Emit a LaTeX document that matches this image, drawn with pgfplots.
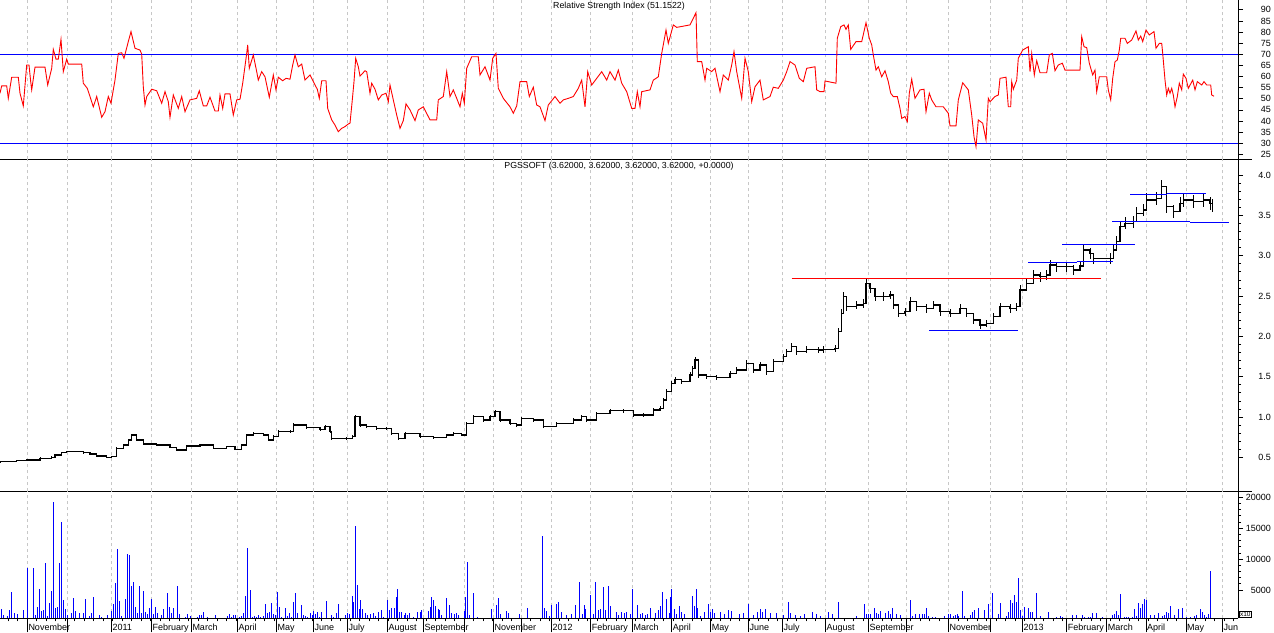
\documentclass[border=0pt]{standalone}
\usepackage{fontspec}
\setmainfont{Liberation Sans}
\usepackage{pgfplots}
\pgfplotsset{compat=1.18}

% one unit = one pixel of the reference screen shot
\pgfplotsset{
  panel/.style={
    scale only axis, width=1238pt, xmin=0, xmax=1238,
    axis x line*=bottom, axis y line*=right,
    axis line style={black, line width=0.9pt, -},
    tick align=outside,
    major tick length=5pt, minor tick length=3pt,
    every tick/.style={black, line width=0.7pt},
    xtick={27.3,67.3,111.3,151.3,191.3,237.3,276.3,313.3,347.3,387.3,423.3,464.3,493.3,521.7,551.3,590.7,632.3,671.7,710.7,748.5,782.3,825.3,868.3,906.7,948.3,990.7,1022.3,1066.7,1106.7,1146,1186,1222.3},
    xmajorgrids,
    grid style={black!22, line width=0.8pt, dash pattern=on 3pt off 3pt},
    yticklabel style={font=\fontsize{9}{10}\selectfont, anchor=east, xshift=28pt, inner sep=0pt},
    /pgf/number format/assume math mode=true,
  },
  upper/.style={xticklabels={}, xtick style={draw=none}},
}

\begin{document}
\begin{tikzpicture}
\useasboundingbox (0,0) rectangle (1274pt,-632pt);

% ---- RSI
\begin{axis}[panel, upper, at={(0pt,0pt)}, anchor=north west,
    height=159.3pt, ymin=22.8, ymax=94.4,
    ytick={25,30,...,90}]
\addplot[blue, line width=1pt] coordinates {(0,70)(1238,70)};
\addplot[blue, line width=1pt] coordinates {(0,30)(1238,30)};
\addplot[red, line width=0.9pt] coordinates {
(0,52.5)(1.7,55.8)(6.7,55.8)(8.3,50.2)(11.7,59.7)(18.3,59.7)(20,52.5)(23.3,46.8)(26.7,65.2)(29,65.2)(30.7,57.7)(31.7,54)(35,64.2)(45,64.2)(47.7,56.2)(51.7,63.7)(53.3,72.2)(56,67.8)(58.3,67.8)(61,76.7)(63.3,62.2)(66.7,67.8)(68.3,65.6)(81.7,65.6)(83.3,57)(87.3,54.7)(90,51)(93.3,46.4)(96.7,51)(101.7,41.7)(105,44.2)(108.3,51)(111,48)(113.3,54)(115,58.4)(118.3,70.4)(121.7,70.7)(124,68.2)(128.3,75.7)(131,80.2)(135,72.7)(140,71.9)(141.7,70.1)(143.3,55.4)(145,47.2)(146.7,51)(151.7,54.3)(156.7,53.6)(161.7,48)(165,53.2)(168.3,48.7)(170,41.7)(173.3,51.7)(178.3,45.7)(181.7,51)(185,44.2)(190,49.5)(196.7,50.2)(199.3,53.6)(203.3,46.8)(206.7,46.8)(210,50.7)(215,44.5)(218.3,44.5)(220,51.7)(222.7,45.7)(225,52.2)(230,52.2)(233.3,42.7)(236.7,49.5)(240,49.8)(242.7,57)(246.7,70.4)(247.7,74.2)(249.3,63.7)(253.3,69.7)(256.7,62.2)(258.3,58.4)(261.7,62.2)(265,59.9)(269.3,50.7)(273.3,60.7)(276,54)(278.3,59.7)(282.7,58.1)(286,59.2)(290,58.8)(292.7,65.2)(295,69.7)(298.3,64.4)(301.7,65.6)(305,58.4)(310,60.7)(315,56.2)(317.3,54.3)(319.3,50.2)(321.7,58.1)(326,58.1)(327.7,45.7)(331.7,40.5)(335,38.2)(338.3,35.2)(341.7,36.7)(345,37.5)(348.3,38.7)(350,39)(352.3,49.5)(354,57.7)(355.7,68.2)(358.3,64.4)(360,60.2)(365,62.6)(366.7,62.2)(370,52.5)(371.7,57)(375,54.3)(378.3,49.5)(381.7,51.7)(386,52.5)(388.3,48.7)(390,56.2)(393.3,49.5)(396.7,42.7)(400,36.7)(403.3,40.2)(406,47.7)(410,45)(415,40.2)(418.3,45)
(423.3,46.4)(430,40.5)(436.7,40.5)(438.3,49.5)(443.3,51)(446.7,62.2)(450,51)(453.3,54)(456.7,50.2)(460,46.4)(462.3,52.5)(464.3,48)(466.7,63.7)(471.7,68.9)(478.3,68.9)(480,60.7)(485,64.4)(490,58.4)(492.7,68.2)(496,70.4)(498.3,54.7)(503.3,50.2)(510,46.4)(513.3,43.5)(516.7,46.8)(520,57.7)(526.7,57.7)(529.3,51)(533.3,55.2)(536.7,47.2)(540,46.4)(545,40.2)(548.3,47.2)(555,51)(560,48)(563.3,49.5)(568.3,50.2)(573.3,51)(578.3,54.7)(581.7,58.4)(585,46.4)(587.7,62.2)(591.7,56.2)(596.7,59.2)(601.7,62.2)(606.7,58.4)(610,62.2)(615,58.4)(618.3,62.9)(621.7,57)(626.7,53.2)(631.7,45.7)(635,45.7)(637.3,53.2)(640,46.4)(641.7,53.2)(650,54)(653.3,58.4)(658.3,59.9)(661.7,70.4)(666,80.9)(668.3,74.9)(673.3,83.2)(676.7,82.1)(690,83.2)(696,88.7)(697.3,66.7)(701.7,66.7)(705,58.4)(706.7,63.7)(711.7,62.2)(715,63.7)(720,53.2)(723.3,60.7)(728.3,58.4)(731.7,65.2)(734,71.2)(736.7,62.2)(741.7,50.2)(745,68.2)(748.3,62.2)(751.7,48.7)(755,55.4)(760,58.4)(763.3,49.5)(770,51)(773.3,55.2)(778.3,54.7)(783.3,58.4)(786.7,62.2)(790,66.7)(795,65.2)(799.3,59.2)(803.3,57.7)(806.7,63.7)(815,64.4)(816.7,54)(820,53.2)(824,53.2)(825,58)(836,57)(837.3,77.2)(840.7,82.4)(844,83.2)(846,81.2)(848.3,83.2)(850.7,72.2)(856,75.7)(861.7,75.7)(866,84.2)(869.3,77.2)(871.7,74.2)(873.3,69.7)(876,62.9)(878.3,64.4)(881.7,59.9)(885,62.6)(888.3,57.7)(890.7,52.5)(893.3,51)(897.3,51)(900,45.7)(901.7,41.2)(905,42)(907.3,39.7)(909.3,52.5)(911.7,58.8)(915,50.2)(920,54)(924,54.3)(926,44.2)(929.3,52.5)(931.7,49.5)(936,46.4)(943.3,46.4)(948.3,43.5)(950,37.8)(956,37.8)(958.3,49.5)(962.7,57.2)(968.3,54)(971.7,42.7)(974,33)(976,28.5)(978.3,40.5)(982.7,39)(986,31.5)(988.3,50.2)(990,48.7)(995,51)(998.3,51.7)(1000,59.2)(1006,59.7)(1008.3,46.4)(1010.7,46.4)(1011.7,57.7)(1013.3,54.3)(1016.7,58.4)(1018.3,68.2)(1022.7,71.9)(1028.3,73.4)(1030,62.2)(1031.7,70.4)(1034.3,60.7)(1036.7,67.1)(1040,61.7)(1046.7,61.7)(1049.3,69.7)(1052.3,70.4)(1055,62.6)(1058.3,65.2)(1062.3,66)(1065,62.9)(1080,62.9)(1081.7,77.9)(1084,73.4)(1086.7,73)(1089.3,66)(1092.7,60.7)(1095,62.9)(1096.7,53.2)(1099.3,59.9)(1106.7,59.9)(1108.3,54)(1110.7,49.5)(1112.7,59.2)(1115,66.7)(1117.3,67.4)(1119.3,71.9)(1120.7,77.2)(1125,77.2)(1127.3,74.9)(1131.7,76.4)(1136,80.5)(1138.3,76.4)(1140.7,78.2)(1142.7,75.7)(1146,80.9)(1149.3,78.7)(1154,80.2)(1156,72.7)(1159.3,74.9)(1161.7,74.9)(1162.7,70.4)(1165,58.4)(1166.7,51.7)(1168.3,54.7)(1170,52.5)(1171.7,54.7)(1173.3,51.7)(1175,46.4)(1177.3,51)(1179.3,57)(1181.7,54)(1183.3,61.1)(1186,59.2)(1188.3,54.7)(1192.7,58.4)(1195,54)(1197.3,57.7)(1201.7,56.2)(1204,57.7)(1206.7,56.2)(1210.7,56.2)(1211.7,51.7)(1214,51.15)
};
\end{axis}

% ---- price
\begin{axis}[panel, upper, at={(0pt,-159.3pt)}, anchor=north west,
    height=332pt, ymin=0.0785, ymax=4.195,
    ytick={0.5,1,...,4}, minor y tick num=4,
    yticklabel style={/pgf/number format/.cd, fixed, fixed zerofill, precision=1}]
\addplot[black, const plot, line width=1.1pt,
    error bars/.cd, y dir=both, y fixed relative=0.022,
    error mark=none, error bar style={line width=1pt}] coordinates {
(0,0.446)(16.7,0.458)(26.7,0.467)(40,0.488)(51.7,0.500)(55,0.529)(61.7,0.557)(66.7,0.569)(83.3,0.557)(90,0.541)(96.7,0.516)(106.7,0.500)(111.7,0.508)(116.7,0.612)(123.3,0.653)(128.3,0.715)(131.7,0.777)(136.7,0.715)(143.3,0.665)(156.7,0.653)(170,0.624)(176.7,0.591)(186.7,0.640)(200,0.653)(213.3,0.612)(226.7,0.632)(235,0.600)(241.7,0.653)(246.7,0.777)(253.3,0.798)(263.3,0.777)(268.3,0.715)(273.3,0.756)(278.3,0.818)(290,0.818)(293.3,0.901)(306.7,0.872)(320,0.847)(325,0.880)(330,0.818)(331.7,0.736)(346.7,0.736)(352.7,0.756)(355,1.004)(360,0.901)(366.7,0.880)(376.7,0.860)(386.7,0.860)(391.7,0.798)(398.3,0.736)(405,0.798)(420,0.756)(433.3,0.748)(446.7,0.777)(453.3,0.798)(461.7,0.777)(466.7,0.922)(473.3,1.004)(483.3,0.963)(490,1.004)(495,1.066)(500,0.963)(510,0.922)(516.7,0.901)(521.7,0.984)(533.3,0.963)(543.3,0.880)(556.7,0.922)(573.3,0.963)(581.7,1.004)(586.7,0.963)(596.7,1.045)(610,1.078)(623.3,1.078)(633.3,1.025)(643.3,1.025)(653.3,1.087)(660,1.107)(663.3,1.211)(666.7,1.313)(671.7,1.416)(675,1.467)(681.7,1.437)(690,1.520)(692.7,1.603)(695,1.706)(698.3,1.520)(706.7,1.499)(716.7,1.492)(730,1.541)(736.7,1.582)(746.7,1.665)(753.3,1.582)(760,1.644)(766.7,1.561)(773.3,1.685)(783.3,1.747)(786.7,1.809)(791.7,1.871)(796.7,1.809)(806.7,1.839)(818.3,1.830)(823.3,1.839)(835,1.851)(838.3,2.057)(841.7,2.285)(843.3,2.491)(846.7,2.367)(856.7,2.388)(863.3,2.409)(866,2.657)(870,2.595)(875,2.491)(883.3,2.491)(890,2.512)(893.3,2.388)(898.3,2.285)(905,2.306)(910,2.429)(916.7,2.367)(926.7,2.347)(933.3,2.388)(940,2.306)(950,2.285)(960,2.347)(966.7,2.285)(973.3,2.202)(980,2.140)(986.7,2.161)(993.3,2.243)(1000,2.367)(1010,2.347)(1016.7,2.367)(1020,2.574)(1026.7,2.657)(1033.3,2.760)(1040,2.739)(1046.7,2.760)(1050,2.884)(1056.7,2.863)(1066.7,2.863)(1073.3,2.822)(1080,2.872)(1083.3,3.070)(1090,3.029)(1093.3,2.967)(1110,2.967)(1113.3,3.070)(1116.7,3.173)(1120,3.359)(1125,3.401)(1133.3,3.421)(1136.7,3.525)(1143.3,3.566)(1146.7,3.690)(1156.7,3.711)(1161.7,3.855)(1166.7,3.607)(1173.3,3.545)(1180,3.649)(1183.3,3.690)(1193.3,3.669)(1203.3,3.690)(1210,3.649)(1212.3,3.620)
};
% support and resistance lines
\addplot[red, line width=1pt] coordinates {(791.7,2.719)(1100.7,2.719)};
\addplot[blue, line width=1pt] coordinates {(929.3,2.075)(1017.7,2.075)};
\addplot[blue, line width=1pt] coordinates {(1028.3,2.918)(1076.7,2.918)};
\addplot[blue, line width=1pt] coordinates {(1076.7,2.934)(1113.3,2.934)};
\addplot[blue, line width=1pt] coordinates {(1062.3,3.141)(1135,3.141)};
\addplot[blue, line width=1pt] coordinates {(1112.3,3.426)(1190,3.426)};
\addplot[blue, line width=1pt] coordinates {(1190,3.414)(1229,3.414)};
\addplot[blue, line width=1pt] coordinates {(1130,3.761)(1166.7,3.761)};
\addplot[blue, line width=1pt] coordinates {(1166.7,3.773)(1206,3.773)};
\end{axis}

% ---- volume
\begin{axis}[panel, at={(0pt,-491.3pt)}, anchor=north west,
    height=127pt, ymin=420, ymax=20970,
    ytick={5000,10000,15000,20000}, minor y tick num=4,
    scaled y ticks=false,
    yticklabel style={/pgf/number format/1000 sep={}},
    xtick style={/pgfplots/major tick length=14pt},
    minor xtick={8,17.5,...,1236},
    xticklabels={November,{},2011,February,March,April,May,June,July,August,September,{},November,{},2012,February,March,April,May,June,July,August,September,{},November,{},2013,February,March,April,May,Jun},
    xticklabel style={font=\fontsize{9}{10}\selectfont, anchor=base west, inner sep=0pt, xshift=1pt, yshift=-7.5pt}]
\addplot[blue, ycomb, line width=1pt] coordinates {
(1.7,1877)(3.3,955)(7.3,793)(9.3,1764)(11.7,4725)(14,1230)(17.7,1117)(23.3,1764)(27.3,8511)(33.3,8511)(35.3,955)(37.3,2200)(39.3,5162)(41.3,1602)(43.3,1764)(45.3,9320)(47.3,793)(49.3,2848)(51.3,4838)(53.3,19191)(55.3,2136)(57.3,2249)(59.3,9320)(61.3,15955)(63.3,3382)(65.3,1877)(67.3,955)(71.3,1327)(73.3,3754)(75.3,1602)(79.3,1327)(83.3,1327)(85.3,3544)(89.3,793)(91.7,1327)(93.3,3819)(99.3,955)(101.3,631)(107.3,955)(111.3,1602)(113.3,2735)(115.3,6084)(117.3,11635)(119.3,3269)(121.3,793)(125.3,3544)(127.3,10825)(129.3,10663)(131.3,5647)(133.3,6295)(135.3,2298)(137.3,1327)(139.3,5647)(141.3,1230)(143.3,4838)(145.3,1400)(147.3,1117)(149.3,2136)(151.3,3544)(153.3,1117)(155.3,2249)(157.3,1327)(161.3,955)(163.3,1950)(167.3,4515)(169.3,2249)(171.3,1300)(173.3,2100)(177.3,5647)(179.3,1117)(185.3,631)(187.3,1117)(190,850)(197.3,631)(199.3,955)(201.3,955)(203.3,1450)(207.3,631)(215.3,955)(227.3,793)(229.3,1117)(231.3,631)(233.3,955)(235.3,955)(239.3,631)(241.3,793)(243.3,1230)(245.3,4030)(247.3,11750)(250,5000)(252,631)(254,793)(256,631)(258.7,955)(260.7,631)(263.3,793)(265.3,2735)(267.3,1327)(269.3,1500)(271.3,2950)(273.3,1117)(275.3,955)(277.3,4676)(279.3,2249)(281.3,631)(285.3,2100)(287.3,793)(289.3,1230)(291.3,631)(293.3,3050)(295.3,4460)(297.3,1327)(301.3,2550)(303.3,955)(305.3,793)(307.3,631)(310,1230)(312,955)(313.3,1602)(315.3,1117)(317.3,1400)(319.3,631)(321.3,1400)(326,3165)(331.3,955)(333.3,631)(336.7,1230)(338,2735)(345.3,955)(347.3,1230)(349.3,1117)(352,4030)(353.3,3050)(355.3,15360)(357.3,5820)(359.3,1877)(360.7,3382)(362,1950)(365.3,1327)(367.3,955)(370,1117)(373.3,1327)(375.3,793)(378,1450)(381.3,1764)(383.3,631)(387.3,3382)(389.3,1764)(391.3,2100)(394,2100)(396,3870)(397.3,5162)(399.3,1450)(401.3,1450)(404,955)(405.3,1230)(407.3,955)(409.3,1230)(413.3,631)(417.3,1500)
(420.7,1500)(421.7,1764)(428.3,1602)(430,2200)(431.7,3819)(433.3,3382)(435,2400)(438.3,1950)(439.3,1764)(441.7,955)(446.7,3700)(449.3,2550)(451.7,1230)(454.3,1117)(456.7,1327)(458.3,955)(464.3,1602)(465.3,3819)(467.3,9482)(469.3,955)(473.3,4460)(477.3,631)(491.3,1950)(496.7,2550)(498.3,3700)(500.3,1117)(506.7,1602)(508.7,1230)(519.3,1117)(527.3,2100)(542.7,13740)(544,2100)(546,1602)(549.3,793)(551.7,2550)(556.7,2735)(558.3,3050)(561.3,1450)(566.7,955)(571.7,1117)(575,2550)(579.3,6295)(582.3,1117)(584.7,2550)(585.7,1950)(590.7,4190)(593.3,1117)(595.7,6295)(598.3,1764)(600.7,1950)(603.3,5485)(605.7,1764)(608.7,5647)(610.7,2400)(616.7,1450)(618.7,955)(621.7,1450)(624,1230)(626.7,1450)(630,1117)(632.3,5162)(637.3,2550)(640,1117)(642.7,1300)(645,955)(647.7,1117)(650.7,2100)(655.7,1300)(658.3,1764)(660,2400)(662.3,4676)(666.7,3600)(669.3,1230)(670.7,3870)(671.7,5162)(674.3,1950)(676.7,1117)(679.3,2400)(681.3,1450)(684.3,1117)(692.3,4030)(694.3,2400)(696.3,5162)(697.3,2100)(700.7,793)(704.3,1450)(708.3,2735)(710,1450)(712.3,1950)(714,1230)(720,1450)(724,1117)(728,1764)(731.7,1602)(739.3,1117)(743.3,1230)(748.3,2735)(753.3,955)(757.3,1450)(760,1950)(762,1450)(765,1950)(770,1230)(776,1230)(783.3,955)(788.3,3050)(790.7,1327)(795.3,955)(800,793)(804.3,1117)(812.3,1450)(816.7,1117)(820,793)(828.3,1450)(832.7,1117)(838.3,3050)
(856.7,793)(864,2735)(866,1117)(868.3,1117)(870.7,1117)(874.3,2087)(876.7,1278)(878.3,1117)(880.7,1602)(885.3,1278)(888.7,1602)(890.3,1117)(892.7,2087)(896.7,1117)(900.3,955)(910.3,3382)(912.7,793)(915,1117)(919.3,1117)(922,1117)(924,1117)(926.3,2087)(928.7,793)(932.7,680)(935,680)(944.3,793)(948.3,1117)(950,1117)(953.3,793)(955.3,955)(957,1117)(958.3,793)(962.3,4838)(964.3,793)(970,955)(972.3,1440)(974.3,1764)(978.3,2087)(984.3,1764)(988.3,2735)(992.7,4515)(998.3,1117)(1000.3,2896)(1006.3,793)(1008.3,1440)(1010.3,3382)(1012.3,2896)(1014.3,4191)(1016.3,3058)(1018.3,6942)(1020.3,1764)(1022.3,793)(1024.3,2250)(1028.3,2087)(1030.3,1440)(1032.3,1440)(1036.3,4515)(1040.3,793)(1048.3,1440)(1056.3,680)(1060.3,793)(1062.3,680)(1072.3,955)(1076.3,955)(1082.3,955)(1084.3,680)(1088.3,680)(1090.3,680)(1092.3,1278)(1096.3,1278)(1102.3,680)(1112.3,955)(1114.3,1117)(1116.3,1602)(1118.3,955)(1120.3,4353)(1124.3,680)(1126.3,680)(1128.3,680)(1132.3,680)(1134.3,1926)(1136.3,793)(1138.3,2896)(1140.3,2087)(1142.3,2735)(1144.3,3544)(1146.3,3382)(1150.3,955)(1154.3,955)(1158.3,1278)(1162.3,793)(1164.3,955)(1166.3,1440)(1168.3,1278)(1170.3,2411)(1174.3,955)(1178.3,1926)(1182.3,2087)(1186.3,680)(1190.3,680)(1194.3,793)(1196.3,955)(1200.3,1926)(1202.3,1440)(1204.3,955)(1206.3,680)(1208.3,1117)(1210.3,8075)
};
\end{axis}

% panel separators run a little past the right axis
\draw[black, line width=0.9pt] (1238pt,-159.3pt) -- (1252pt,-159.3pt);
\draw[black, line width=0.9pt] (1238pt,-491.3pt) -- (1252pt,-491.3pt);
\node[draw, line width=0.6pt, inner sep=0.7pt, anchor=south west, font=\fontsize{6.5}{7}\selectfont]
  at (1239pt,-618pt) {x10};
\node[font=\fontsize{8.8}{10}\selectfont] at (619pt,-6.5pt) {Relative Strength Index (51.1522)};
\node[font=\fontsize{8.8}{10}\selectfont] at (619pt,-166.5pt) {PGSSOFT (3.62000, 3.62000, 3.62000, 3.62000, +0.0000)};
\end{tikzpicture}
\end{document}
